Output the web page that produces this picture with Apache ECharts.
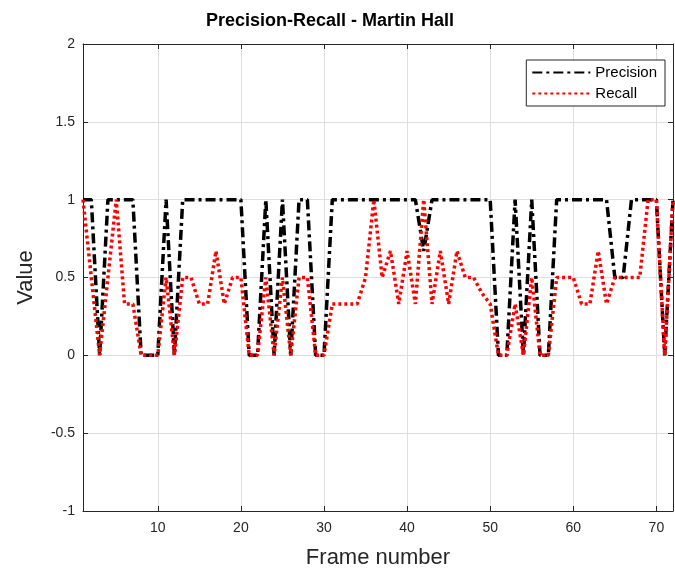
<!DOCTYPE html>
<html>
<head>
<meta charset="utf-8">
<script src="https://cdn.jsdelivr.net/npm/echarts@6/dist/echarts.min.js"></script>
<style>
  html, body { margin: 0; padding: 0; background: #fff; }
  #chart { width: 675px; height: 574px; }
</style>
</head>
<body>
<div id="chart"></div>
<script>
// frame numbers 1..72
const frames = [1, 2, 3, 4, 5, 6, 7, 8, 9, 10, 11, 12, 13, 14, 15, 16, 17, 18, 19, 20,
  21, 22, 23, 24, 25, 26, 27, 28, 29, 30, 31, 32, 33, 34, 35, 36, 37, 38, 39, 40,
  41, 42, 43, 44, 45, 46, 47, 48, 49, 50, 51, 52, 53, 54, 55, 56, 57, 58, 59, 60,
  61, 62, 63, 64, 65, 66, 67, 68, 69, 70, 71, 72];

const precision = [1, 1, 0, 1, 1, 1, 1, 0, 0, 0, 1, 0, 1, 1, 1, 1, 1, 1, 1, 1,
  0, 0, 1, 0, 1, 0, 1, 1, 0, 0, 1, 1, 1, 1, 1, 1, 1, 1, 1, 1,
  1, 0.67, 1, 1, 1, 1, 1, 1, 1, 1, 0, 0, 1, 0, 1, 0, 0, 1, 1, 1,
  1, 1, 1, 1, 0.5, 0.5, 1, 1, 1, 1, 0, 1];

const recall = [1, 0.5, 0, 0.5, 1, 0.33, 0.33, 0, 0, 0, 0.5, 0, 0.5, 0.5, 0.33, 0.33, 0.67, 0.33, 0.5, 0.5,
  0, 0, 0.5, 0, 0.5, 0, 0.5, 0.5, 0, 0, 0.33, 0.33, 0.33, 0.33, 0.5, 1, 0.5, 0.67, 0.33, 0.67,
  0.33, 1, 0.33, 0.67, 0.33, 0.67, 0.5, 0.5, 0.4, 0.33, 0, 0, 0.33, 0, 0.5, 0, 0, 0.5, 0.5, 0.5,
  0.33, 0.33, 0.67, 0.33, 0.5, 0.5, 0.5, 0.5, 1, 1, 0, 1];

const xTicks = [10, 20, 30, 40, 50, 60, 70];

const axisColor = '#262626';
const gridColor = '#dedede';
const font = 'Liberation Sans, Arial, sans-serif';

const chart = echarts.init(document.getElementById('chart'));

const xBase = {
  type: 'value',
  min: 1,
  max: 72,
  axisLine: { show: true, onZero: false, lineStyle: { color: axisColor, width: 1 } },
  axisTick: { show: true, inside: true, length: 5, customValues: xTicks, lineStyle: { color: axisColor } }
};
const yBase = {
  type: 'value',
  min: -1,
  max: 2,
  interval: 0.5,
  axisLine: { show: true, onZero: false, lineStyle: { color: axisColor, width: 1 } },
  axisTick: { show: true, inside: true, length: 5, lineStyle: { color: axisColor } }
};

const option = {
  animation: false,
  backgroundColor: '#fff',
  title: {
    text: 'Precision-Recall - Martin Hall',
    left: 201,
    top: 7,
    textStyle: { fontFamily: font, fontSize: 18, fontWeight: 'bold', color: '#000' }
  },
  legend: {
    orient: 'vertical',
    right: 10,
    top: 60,
    itemWidth: 58,
    itemHeight: 14,
    itemGap: 6,
    padding: [5, 8, 5, 5],
    borderColor: axisColor,
    borderWidth: 1,
    borderRadius: 0,
    backgroundColor: '#fff',
    itemStyle: { opacity: 0 },
    textStyle: { fontFamily: font, fontSize: 15, color: '#000' },
    data: ['Precision', 'Recall']
  },
  grid: { left: 83, right: 2, top: 44, bottom: 62 },
  xAxis: [
    Object.assign({}, xBase, {
      position: 'bottom',
      name: 'Frame number',
      nameLocation: 'middle',
      nameGap: 36,
      nameTextStyle: { fontFamily: font, fontSize: 22, color: axisColor },
      axisLabel: { customValues: xTicks, margin: 10, fontFamily: font, fontSize: 14, color: axisColor },
      splitLine: { show: true, lineStyle: { color: gridColor, width: 1 } }
    }),
    Object.assign({}, xBase, {
      position: 'top',
      axisLabel: { show: false },
      splitLine: { show: false }
    })
  ],
  yAxis: [
    Object.assign({}, yBase, {
      position: 'left',
      name: 'Value',
      nameLocation: 'middle',
      nameGap: 46,
      nameTextStyle: { fontFamily: font, fontSize: 22, color: axisColor },
      axisLabel: { margin: 8, fontFamily: font, fontSize: 14, color: axisColor },
      splitLine: { show: true, lineStyle: { color: gridColor, width: 1 } }
    }),
    Object.assign({}, yBase, {
      position: 'right',
      axisLabel: { show: false },
      splitLine: { show: false }
    })
  ],
  series: [
    {
      name: 'Precision',
      type: 'line',
      data: frames.map((f, i) => [f, precision[i]]),
      symbol: 'none',
      color: '#000',
      lineStyle: { color: '#000', width: 3.5, type: [10, 4, 3, 4], cap: 'butt' }
    },
    {
      name: 'Recall',
      type: 'line',
      data: frames.map((f, i) => [f, recall[i]]),
      symbol: 'none',
      color: '#ff0000',
      lineStyle: { color: '#ff0000', width: 3.5, type: [3, 3], cap: 'butt' }
    }
  ]
};

chart.setOption(option);
</script>
</body>
</html>
